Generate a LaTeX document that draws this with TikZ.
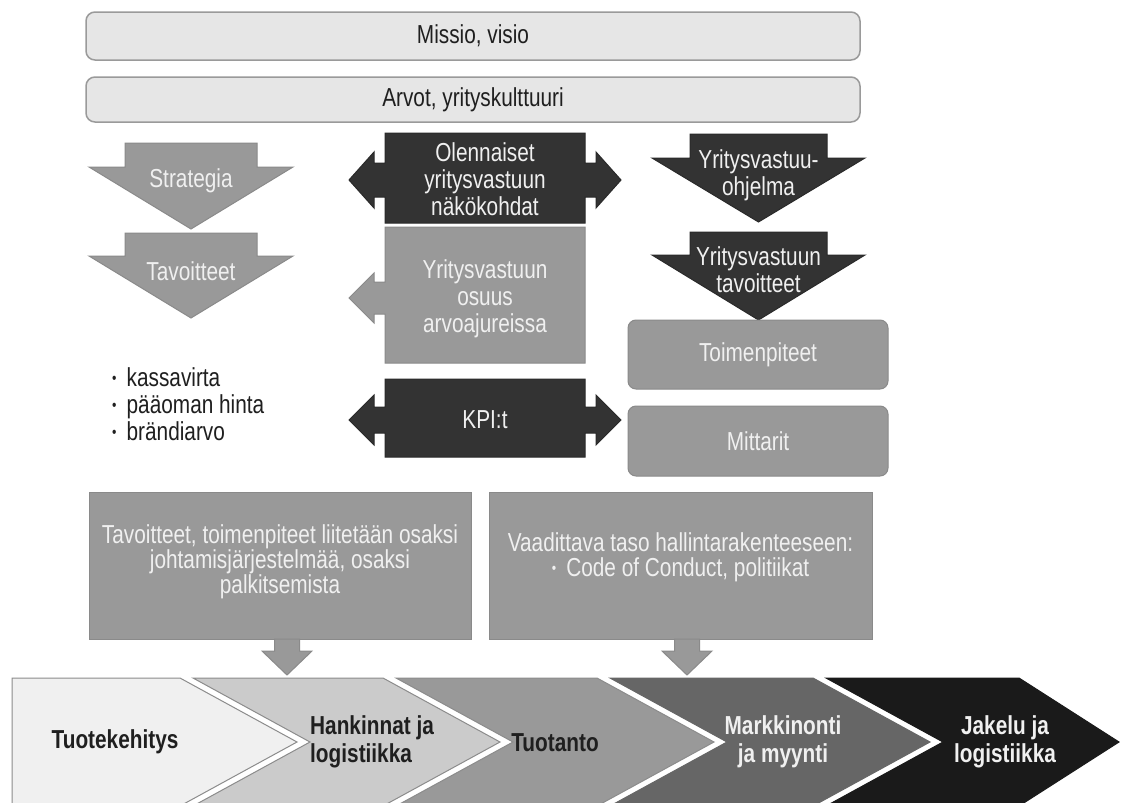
\documentclass[tikz,border=0pt]{standalone}
\usepackage{fontspec}
\setmainfont[FakeStretch=0.8]{Liberation Sans}
\definecolor{lightg}{HTML}{E6E6E6}
\definecolor{topborder}{HTML}{9A9A9A}
\definecolor{g}{HTML}{999999}
\definecolor{gborder}{HTML}{8A8A8A}
\definecolor{d}{HTML}{333333}
\definecolor{dborder}{HTML}{2A2A2A}
\definecolor{c1}{HTML}{F0F0F0}
\definecolor{c2}{HTML}{CBCBCB}
\definecolor{c3}{HTML}{999999}
\definecolor{c4}{HTML}{666666}
\definecolor{c5}{HTML}{1A1A1A}
\definecolor{cborder}{HTML}{8C8C8C}
\definecolor{wtext}{HTML}{F0F0F0}
\begin{document}
\begin{tikzpicture}[x=1pt,y=-1pt,
  base/.style={font=\fontsize{26}{27}\selectfont, inner sep=0pt, align=center},
  wtxt/.style={base, text=wtext},
  btxt/.style={base, text=black!88},
  bold/.style={font=\fontsize{26}{28}\selectfont\bfseries},
  grayshape/.style={fill=g, draw=gborder, line width=1pt},
  darkshape/.style={fill=d, draw=dborder, line width=1pt},
  topbox/.style={fill=lightg, draw=topborder, line width=1.5pt, rounded corners=9pt, minimum width=774pt, inner sep=0pt, font=\fontsize{26}{27}\selectfont, text=black!88},
  roundbox/.style={fill=g, draw=gborder, line width=1pt, rounded corners=8pt, minimum width=260pt, inner sep=0pt, font=\fontsize{26}{27}\selectfont, text=wtext},
  bigbox/.style={fill=g, draw=gborder, line width=1pt, minimum width=382pt, minimum height=147pt, inner sep=0pt},
  chev/.style={draw=cborder, line width=1pt}
]
\useasboundingbox (0,0) rectangle (1122,803);
\fill[white] (0,0) rectangle (1122,803);

% top boxes
\node[topbox, minimum height=48pt] (missio) at (473,36) {Missio, visio};
\node[topbox, minimum height=45pt] (arvot) at (473,99.5) {Arvot, yrityskulttuuri};

% left down arrows
\filldraw[grayshape] (125,143) -- (257,143) -- (257,167) -- (293,167) -- (191,229) -- (89,167) -- (125,167) -- cycle;
\node[wtxt] (strategia) at (191,181) {Strategia};
\filldraw[grayshape] (125,233) -- (257,233) -- (257,256) -- (293,256) -- (191,318) -- (89,256) -- (125,256) -- cycle;
\node[wtxt] (tavoitteet) at (191,271) {Tavoitteet};

% bullets
\node[btxt, align=left, anchor=west] (bullets) at (112,404)
  {\raisebox{0.12em}{\scalebox{0.6}{•}}\, kassavirta\\
   \raisebox{0.12em}{\scalebox{0.6}{•}}\, pääoman hinta\\
   \raisebox{0.12em}{\scalebox{0.6}{•}}\, brändiarvo};

% middle column
\filldraw[darkshape] (385,133) -- (585,133) -- (585,163) -- (596,163) -- (596,152) -- (621,180) -- (596,208) -- (596,197) -- (585,197) -- (585,223) -- (385,223) -- (385,197) -- (374,197) -- (374,208) -- (349,180) -- (374,152) -- (374,163) -- (385,163) -- cycle;
\node[wtxt] (olennaiset) at (485,179) {Olennaiset\\yritysvastuun\\näkökohdat};

\filldraw[grayshape] (385,227) -- (585,227) -- (585,363) -- (385,363) -- (385,314) -- (374,314) -- (374,323) -- (349,298) -- (374,273) -- (374,282) -- (385,282) -- cycle;
\node[wtxt] (osuus) at (485,299) {Yritysvastuun\\osuus\\arvoajureissa};

\filldraw[darkshape] (385,379) -- (585,379) -- (585,407) -- (596,407) -- (596,395) -- (621,420) -- (596,445) -- (596,433) -- (585,433) -- (585,457) -- (385,457) -- (385,433) -- (374,433) -- (374,445) -- (349,420) -- (374,395) -- (374,407) -- (385,407) -- cycle;
\node[wtxt] (kpi) at (485,420) {KPI:t};

% right column
\filldraw[darkshape] (690,134) -- (827,134) -- (827,158) -- (865,158) -- (758.5,222) -- (652,158) -- (690,158) -- cycle;
\node[wtxt] (ohjelma) at (758.5,175) {Yritysvastuu-\\ohjelma};
\filldraw[darkshape] (690,232) -- (827,232) -- (827,255) -- (865,255) -- (758.5,320) -- (652,255) -- (690,255) -- cycle;
\node[wtxt] (yvtav) at (758.5,270) {Yritysvastuun\\tavoitteet};

\node[roundbox, minimum height=69pt] (toimenpiteet) at (758,354.5) {Toimenpiteet};
\node[roundbox, minimum height=70pt] (mittarit) at (758,441) {Mittarit};

% big boxes
\node[bigbox] (box1) at (280,565.5) {};
\node[wtxt, font=\fontsize{26}{25}\selectfont] (box1t) at (280,562) {Tavoitteet, toimenpiteet liitetään osaksi\\johtamisjärjestelmää, osaksi\\palkitsemista};
\node[bigbox, minimum width=383pt] (box2) at (680.5,565.5) {};
\node[wtxt, font=\fontsize{26}{25}\selectfont] (box2t) at (680.5,557) {Vaadittava taso hallintarakenteeseen:\\\raisebox{0.12em}{\scalebox{0.6}{•}}\, Code of Conduct, politiikat};

% small arrows
\filldraw[grayshape] (274.5,639) -- (299.5,639) -- (299.5,651) -- (312,651) -- (287,675) -- (262,651) -- (274.5,651) -- cycle;
\filldraw[grayshape] (674.5,639) -- (699.5,639) -- (699.5,651) -- (712,651) -- (687,675) -- (662,651) -- (674.5,651) -- cycle;

% chevrons
\filldraw[chev, fill=c1] (12,678) -- (180,678) -- (297,742) -- (180,806) -- (12,806) -- cycle;
\filldraw[chev, fill=c2] (193,678) -- (383,678) -- (500,742) -- (383,806) -- (193,806) -- (310,742) -- cycle;
\filldraw[chev, fill=c3] (396,678) -- (597,678) -- (714,742) -- (597,806) -- (396,806) -- (513,742) -- cycle;
\filldraw[chev, fill=c4, draw=c4] (610,678) -- (813,678) -- (930,742) -- (813,806) -- (610,806) -- (727,742) -- cycle;
\filldraw[chev, fill=c5, draw=c5] (826,678) -- (1019,678) -- (1119,742) -- (1019,806) -- (826,806) -- (943,742) -- cycle;

\node[btxt, bold] (tk) at (115,742) {Tuotekehitys};
\node[btxt, bold, align=left, anchor=west] (hl) at (310,742) {Hankinnat ja\\logistiikka};
\node[btxt, bold] (tt) at (555,743) {Tuotanto};
\node[wtxt, bold] (mm) at (783,742) {Markkinonti\\ja myynti};
\node[wtxt, bold] (jl) at (1005,742) {Jakelu ja\\logistiikka};
\end{tikzpicture}
\end{document}
